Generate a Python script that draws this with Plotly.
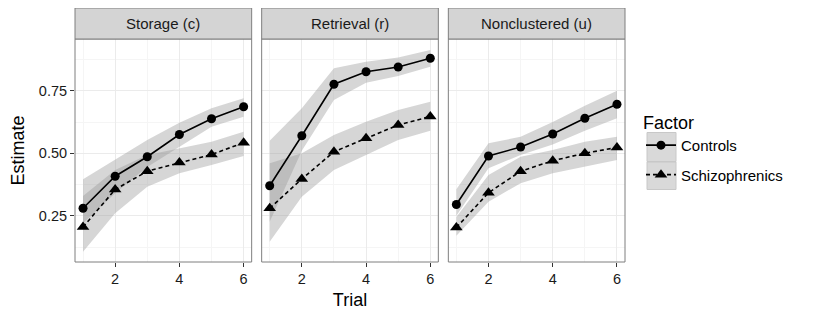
import plotly.graph_objects as go

trials = [1, 2, 3, 4, 5, 6]
panel_titles = ["Storage (c)", "Retrieval (r)", "Nonclustered (u)"]
factor_names = ["Controls", "Schizophrenics"]

storage_controls_est = [0.280, 0.408, 0.486, 0.575, 0.638, 0.686]
storage_controls_lo = [0.220, 0.340, 0.445, 0.526, 0.606, 0.646]
storage_controls_hi = [0.396, 0.473, 0.553, 0.622, 0.680, 0.720]
storage_schiz_est = [0.205, 0.355, 0.428, 0.463, 0.495, 0.542]
storage_schiz_lo = [0.106, 0.260, 0.366, 0.420, 0.453, 0.489]
storage_schiz_hi = [0.329, 0.433, 0.493, 0.520, 0.546, 0.586]

retrieval_controls_est = [0.370, 0.570, 0.776, 0.826, 0.845, 0.880]
retrieval_controls_lo = [0.226, 0.510, 0.713, 0.782, 0.809, 0.846]
retrieval_controls_hi = [0.550, 0.680, 0.840, 0.866, 0.883, 0.913]
retrieval_schiz_est = [0.280, 0.397, 0.506, 0.560, 0.613, 0.647]
retrieval_schiz_lo = [0.146, 0.326, 0.433, 0.493, 0.553, 0.590]
retrieval_schiz_hi = [0.460, 0.500, 0.573, 0.626, 0.673, 0.706]

noncl_controls_est = [0.295, 0.489, 0.525, 0.577, 0.640, 0.696]
noncl_controls_lo = [0.250, 0.440, 0.493, 0.535, 0.590, 0.640]
noncl_controls_hi = [0.356, 0.540, 0.566, 0.625, 0.690, 0.750]
noncl_schiz_est = [0.203, 0.342, 0.428, 0.470, 0.500, 0.523]
noncl_schiz_lo = [0.170, 0.306, 0.380, 0.420, 0.446, 0.473]
noncl_schiz_hi = [0.245, 0.413, 0.486, 0.513, 0.546, 0.566]

x_ticks = [2, 4, 6]
y_ticks = [0.25, 0.50, 0.75]
y_tick_labels = ["0.25", "0.50", "0.75"]

panels = [
    [(storage_controls_est, storage_controls_lo, storage_controls_hi),
     (storage_schiz_est, storage_schiz_lo, storage_schiz_hi)],
    [(retrieval_controls_est, retrieval_controls_lo, retrieval_controls_hi),
     (retrieval_schiz_est, retrieval_schiz_lo, retrieval_schiz_hi)],
    [(noncl_controls_est, noncl_controls_lo, noncl_controls_hi),
     (noncl_schiz_est, noncl_schiz_lo, noncl_schiz_hi)],
]

FONT = "Liberation Sans, Arial, sans-serif"
OFF = 8  # page body margin
W, H = 817 - OFF, 317 - OFF
ML, MR, MT, MB = 75 - OFF, 192, 0, 55
PW = W - ML - MR
PH = H - MT - MB
STRIP = 31
plot_h = PH - STRIP
ydom_top = plot_h / PH

gap = 10 / PW
pw = (1 - 2 * gap) / 3
domains = [[i * (pw + gap), i * (pw + gap) + pw] for i in range(3)]

fig = go.Figure()
styles = [
    dict(dash="solid", symbol="circle", size=9),
    dict(dash="4px,3px", symbol="triangle-up", size=11),
]

for p, series in enumerate(panels):
    xa = "x" if p == 0 else f"x{p+1}"
    ya = "y" if p == 0 else f"y{p+1}"
    for f, (est, lo, hi) in enumerate(series):
        fig.add_trace(go.Scatter(
            x=trials + trials[::-1], y=hi + lo[::-1], fill="toself",
            fillcolor="rgba(153,153,153,0.4)", line=dict(width=0),
            mode="lines", showlegend=False, hoverinfo="skip",
            xaxis=xa, yaxis=ya))
    for f, (est, lo, hi) in enumerate(series):
        st = styles[f]
        fig.add_trace(go.Scatter(
            x=trials, y=est, mode="lines+markers", name=factor_names[f],
            legendgroup=factor_names[f], showlegend=(p == 0),
            line=dict(color="black", width=1.6, dash=st["dash"]),
            marker=dict(symbol=st["symbol"], size=st["size"], color="black"),
            xaxis=xa, yaxis=ya))

shapes = []
annotations = []
for p in range(3):
    sfx = "" if p == 0 else str(p + 1)
    fig.update_layout(**{
        "xaxis" + sfx: dict(
            domain=domains[p], range=[0.75, 6.25], tickvals=x_ticks,
            ticks="outside", ticklen=4, tickcolor="#333333",
            showgrid=True, gridcolor="#EBEBEB", gridwidth=1,
            minor=dict(tickvals=[1, 3, 5], showgrid=True, gridcolor="#F5F5F5", gridwidth=0.6, ticklen=0),
            zeroline=False, showline=False,
            tickfont=dict(family=FONT, size=14.5, color="#1a1a1a"),
            anchor="y" + sfx, fixedrange=True,
        ),
        "yaxis" + sfx: dict(
            domain=[0, ydom_top], range=[0.065, 0.957], tickvals=y_ticks,
            ticktext=y_tick_labels, showticklabels=(p == 0),
            ticks="outside" if p == 0 else "", ticklen=4, tickcolor="#333333",
            showgrid=True, gridcolor="#EBEBEB", gridwidth=1,
            minor=dict(tickvals=[0.125, 0.375, 0.625, 0.875], showgrid=True, gridcolor="#F5F5F5", gridwidth=0.6, ticklen=0),
            zeroline=False, showline=False,
            tickfont=dict(family=FONT, size=14.5, color="#1a1a1a"),
            anchor="x" + sfx, fixedrange=True,
        ),
    })
    shapes.append(dict(type="rect", xref=f"x{sfx} domain", yref=f"y{sfx} domain",
                       x0=0, x1=1, y0=0, y1=1, line=dict(color="#7F7F7F", width=1),
                       fillcolor="rgba(0,0,0,0)", layer="above"))
    shapes.append(dict(type="rect", xref=f"x{sfx} domain", yref=f"y{sfx} domain",
                       x0=0, x1=1, y0=1, y1=1 + STRIP / plot_h, line=dict(color="#7F7F7F", width=1),
                       fillcolor="#D4D4D4", layer="above"))
    annotations.append(dict(text=panel_titles[p], xref=f"x{sfx} domain", yref=f"y{sfx} domain",
                            x=0.5, y=1 + STRIP / plot_h / 2, showarrow=False,
                            xanchor="center", yanchor="middle",
                            font=dict(family=FONT, size=15, color="#1a1a1a")))


def px2paper(px, py):
    return (px - OFF - ML) / PW, 1 - (py - OFF - MT) / PH


for (y0, y1) in [(132.5, 161.5), (162, 189.5)]:
    x0p, y0p = px2paper(647, y0)
    x1p, y1p = px2paper(676, y1)
    shapes.append(dict(type="rect", xref="paper", yref="paper", x0=x0p, x1=x1p,
                       y0=y1p, y1=y0p, line=dict(color="#C8C8C8", width=1),
                       fillcolor="#D9D9D9", layer="below"))

lx, ly = px2paper(641, 105.5)
fig.update_layout(
    width=W, height=H, margin=dict(l=ML, r=MR, t=MT, b=MB),
    plot_bgcolor="white", paper_bgcolor="white",
    shapes=shapes, annotations=annotations,
    font=dict(family=FONT, color="#000000"),
    legend=dict(
        x=lx, xanchor="left", y=ly, yanchor="top",
        title=dict(text="Factor", font=dict(family=FONT, size=18, color="black")),
        font=dict(family=FONT, size=15, color="black"),
        bgcolor="rgba(0,0,0,0)", tracegroupgap=7, itemwidth=30,
    ),
    showlegend=True,
)
fig.update_layout(
    yaxis_title=dict(text="Estimate", font=dict(family=FONT, size=18, color="black"), standoff=9),
    xaxis2_title=dict(text="Trial", font=dict(family=FONT, size=18, color="black"), standoff=6),
)

fig.write_html("out.html")
